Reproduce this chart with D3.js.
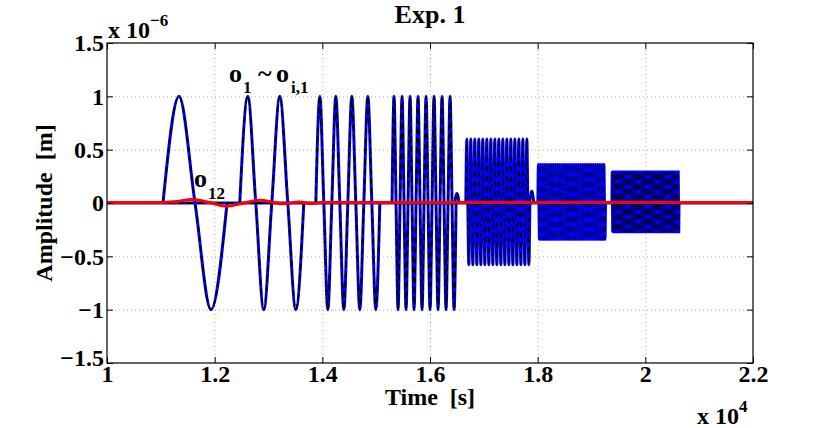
<!DOCTYPE html>
<meta charset="utf-8">
<style>
body { margin: 0; background: #fff; }
svg text { font-family: "Liberation Serif", "Times New Roman", serif; font-weight: bold; fill: #000; white-space: pre; }
.axis text { font-size: 24px; }
.axis path { display: none; }
.axis line { stroke: #000; }
.grid line { stroke: #b0b0b0; stroke-dasharray: 1,3; }
.grid path { display: none; }
</style>
<svg width="830" height="428"></svg>
<script src="https://d3js.org/d3.v7.min.js"></script>
<script>

// excitation bursts (time in s, amplitude in 1e-6 m)
var burstStart  = [11040, 12466, 13879, 15295, 16665, 18004, 19380],
    burstEnd    = [12230, 13656, 15068, 16484, 17855, 19260, 20626],
    burstCycles = [1, 2, 4, 8, 16, 32, 64],
    burstHigh   = [1, 1, 1, 1, 0.6, 0.36, 0.29],
    burstLow    = [-1, -1, -1, -1, -0.58, -0.34, -0.27];

// small spikes just after some bursts
var blipTime  = [16500, 17890],
    blipValue = [0.09, 0.11];

// o12 response (red)
var o12Time  = [10000, 11000, 11250, 11590, 11900, 12220, 12500, 12840, 13100, 13260, 13580, 13780, 14000, 22000],
    o12Value = [0.005, 0.005, 0.012, 0.032, 0.005, -0.03, -0.005, 0.026, 0.005, -0.008, 0.01, -0.005, 0.005, 0.005];

var xTickValues = [10000, 12000, 14000, 16000, 18000, 20000, 22000],
    xTickLabels = ["1", "1.2", "1.4", "1.6", "1.8", "2", "2.2"],
    yTickValues = [-1.5, -1, -0.5, 0, 0.5, 1, 1.5],
    yTickLabels = ["\u22121.5", "\u22121", "\u22120.5", "0", "0.5", "1", "1.5"];

var svg = d3.select("svg"),
    margin = {top: 43, right: 77, bottom: 65, left: 107},
    width = svg.attr("width") - margin.left - margin.right,
    height = svg.attr("height") - margin.top - margin.bottom;

var x = d3.scaleLinear().domain([10000, 22000]).range([0, width]),
    y = d3.scaleLinear().domain([-1.5, 1.5]).range([height, 0]);

var g = svg.append("g")
    .attr("transform", "translate(" + margin.left + "," + margin.top + ")");

g.append("clipPath").attr("id", "clip")
  .append("rect").attr("width", width).attr("height", height);

// grid
g.append("g").attr("class", "grid")
    .attr("transform", "translate(0," + height + ")")
    .call(d3.axisBottom(x).tickValues(xTickValues.slice(1, -1)).tickSize(-height).tickFormat(""));
g.append("g").attr("class", "grid")
    .call(d3.axisLeft(y).tickValues(yTickValues.slice(1, -1)).tickSize(-width).tickFormat(""));

var line = d3.line()
    .x(function(d) { return x(d[0]); })
    .y(function(d) { return y(d[1]); })
    .curve(d3.curveMonotoneX);

function burstPoints(i) {
  var n = burstCycles[i] * 4,
      step = (burstEnd[i] - burstStart[i]) / n,
      pattern = [0, burstHigh[i], 0, burstLow[i]];
  var pts = d3.range(n + 1).map(function(j) { return [burstStart[i] + j * step, pattern[j % 4]]; });
  pts.cycles = burstCycles[i];
  return pts;
}

var base = [[10000, 0], [22000, 0]];
base.cycles = 0;
var paths = [base];
burstStart.forEach(function(s, i) { paths.push(burstPoints(i)); });
blipTime.forEach(function(t, i) {
  var p = [[t - 40, 0], [t, blipValue[i]], [t + 40, 0]];
  p.cycles = 0;
  paths.push(p);
});

var plot = g.append("g").attr("clip-path", "url(#clip)");

plot.selectAll(".blue").data(paths).enter().append("path")
    .attr("class", "blue")
    .attr("d", line)
    .attr("fill", "none")
    .attr("stroke", "#0000ff")
    .attr("stroke-width", 3);

// dashed overlay is thinner on the very dense bursts so the blue shows through
plot.selectAll(".black").data(paths).enter().append("path")
    .attr("class", "black")
    .attr("d", line)
    .attr("fill", "none")
    .attr("stroke", "#000")
    .attr("stroke-width", function(d) { return d.cycles >= 32 ? 0.5 : d.cycles >= 16 ? 1 : 1.8; })
    .attr("stroke-dasharray", "6,4");

plot.append("path")
    .datum(o12Time.map(function(t, i) { return [t, o12Value[i]]; }))
    .attr("d", line)
    .attr("fill", "none")
    .attr("stroke", "#ff0000")
    .attr("stroke-width", 3);

// box
g.append("rect")
    .attr("width", width).attr("height", height)
    .attr("fill", "none").attr("stroke", "#000").attr("stroke-width", 1.2);

// axes with inward ticks
g.append("g").attr("class", "axis")
    .attr("transform", "translate(0," + height + ")")
    .call(d3.axisBottom(x).tickValues(xTickValues).tickSize(-6).tickPadding(2)
      .tickFormat(function(d, i) { return xTickLabels[i]; }));
g.append("g").attr("class", "axis")
    .call(d3.axisTop(x).tickValues(xTickValues).tickSize(-6).tickFormat(""));
g.append("g").attr("class", "axis")
    .call(d3.axisLeft(y).tickValues(yTickValues).tickSize(-6).tickPadding(3)
      .tickFormat(function(d, i) { return yTickLabels[i]; }))
  .selectAll("text")
    .attr("dy", function(d) { return d === -1.5 ? "0.1em" : "0.32em"; });
g.append("g").attr("class", "axis")
    .attr("transform", "translate(" + width + ",0)")
    .call(d3.axisRight(y).tickValues(yTickValues).tickSize(-6).tickFormat(""));

// title and labels
svg.append("text")
    .attr("x", margin.left + width / 2).attr("y", 23)
    .attr("text-anchor", "middle").style("font-size", "26px")
    .text("Exp. 1");

svg.append("text")
    .attr("x", margin.left + width / 2).attr("y", 405)
    .attr("text-anchor", "middle").style("font-size", "24px")
    .text("Time  [s]");

svg.append("text")
    .attr("transform", "translate(52," + (margin.top + height / 2) + ")rotate(-90)")
    .attr("text-anchor", "middle").style("font-size", "24px")
    .text("Amplitude  [m]");

var e6 = svg.append("text").attr("x", 108).attr("y", 38).style("font-size", "24px");
e6.append("tspan").text("x 10");
e6.append("tspan").attr("dy", -12).style("font-size", "17px").text("\u22126");

var e4 = svg.append("text").attr("x", 697).attr("y", 424).style("font-size", "24px");
e4.append("tspan").text("x 10");
e4.append("tspan").attr("dy", -12).style("font-size", "17px").text("4");

// annotations
var a1 = svg.append("text").attr("y", 82).style("font-size", "26px");
a1.append("tspan").attr("x", 229).text("o");
a1.append("tspan").attr("x", 243).attr("dy", 11).style("font-size", "17px").text("1");
a1.append("tspan").attr("x", 258).attr("dy", -11).text("~");
a1.append("tspan").attr("x", 276).text("o");
a1.append("tspan").attr("x", 291).attr("dy", 11).style("font-size", "17px").text("i,1");

var a2 = svg.append("text").attr("y", 187).style("font-size", "26px");
a2.append("tspan").attr("x", 194).text("o");
a2.append("tspan").attr("x", 208).attr("dy", 12).style("font-size", "17px").text("12");

</script>
